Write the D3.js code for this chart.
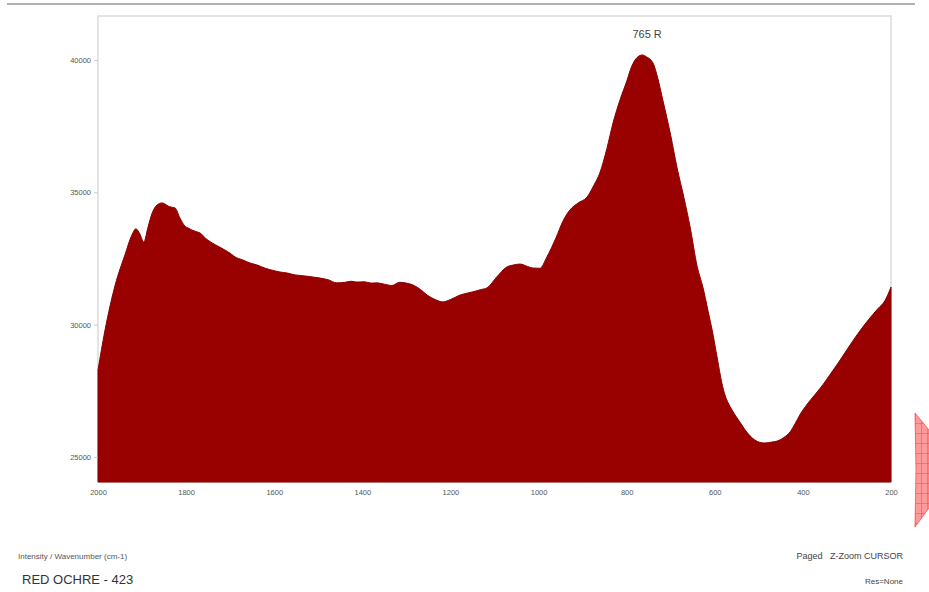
<!DOCTYPE html>
<html>
<head>
<meta charset="utf-8">
<script src="https://cdn.jsdelivr.net/npm/d3@7/dist/d3.min.js"></script>
<style>
  html, body { margin: 0; padding: 0; background: #fff; }
  svg { display: block; font-family: "Liberation Sans", Arial, sans-serif; }
</style>
</head>
<body>
<svg id="chart" width="929" height="592"></svg>
<script>
// Raman spectrum of red ochre sample 423: wavenumber (cm-1) and intensity
const wavenumber = [
  2000, 1984, 1961, 1939, 1923, 1914, 1905, 1896, 1887, 1877, 1866, 1855, 1848, 1841,
  1833, 1825, 1814, 1803, 1795, 1787, 1778, 1768, 1755, 1741, 1727, 1712, 1700, 1689,
  1672, 1655, 1640, 1628, 1610, 1598, 1587, 1570, 1553, 1541, 1520, 1496, 1478, 1458,
  1440, 1425, 1412, 1395, 1380, 1367, 1350, 1333, 1315, 1300, 1285, 1268, 1253, 1235,
  1217, 1200, 1178, 1160, 1149, 1130, 1117, 1095, 1072, 1058, 1042, 1025, 1013, 997,
  981, 960, 945, 929, 910, 890, 875, 861, 845, 831, 815, 799, 790, 781, 772, 765, 755,
  740, 730, 718, 700, 686, 670, 656, 640, 627, 615, 606, 594, 584, 577, 565, 554, 540,
  531, 520, 509, 497, 486, 472, 457, 443, 429, 418, 407, 390, 373, 355, 339, 320, 293,
  270, 248, 230, 214, 200
];
const intensity = [
  28290, 29800, 31500, 32630, 33390, 33620, 33430, 33120, 33650, 34220, 34520, 34600, 34560, 34480,
  34440, 34410, 34030, 33730, 33650, 33580, 33520, 33460, 33250, 33090, 32960, 32820, 32700, 32560,
  32450, 32330, 32260, 32180, 32080, 32030, 31990, 31950, 31880, 31860, 31820, 31760, 31700, 31580,
  31600, 31640, 31610, 31620, 31570, 31580, 31530, 31480, 31600, 31570, 31500, 31330, 31120, 30950,
  30860, 30950, 31120, 31200, 31240, 31330, 31390, 31800, 32180, 32250, 32290, 32200, 32140, 32130,
  32560, 33300, 33900, 34330, 34600, 34820, 35250, 35730, 36650, 37620, 38500, 39240, 39700, 40000, 40150, 40190, 40120,
  39880, 39350, 38490, 37150, 35960, 34800, 33690, 32200, 31420, 30500, 29800, 28700, 27800, 27350, 26900, 26590, 26250,
  26020, 25800, 25640, 25550, 25530, 25560, 25610, 25740, 25950, 26250, 26590, 27000, 27350, 27720, 28100, 28550, 29230,
  29780, 30250, 30600, 30900, 31420
];

const xTicks = [2000, 1800, 1600, 1400, 1200, 1000, 800, 600, 400, 200];
const yTicks = [25000, 30000, 35000, 40000];
const peakLabel = { wn: 765, value: 40190, text: "765 R" };

const svg = d3.select("#chart");
const plot = { left: 98, right: 891, top: 16, bottom: 482 };

const x = d3.scaleLinear().domain([2000, 200]).range([plot.left, plot.right]);
const y = d3.scaleLinear().domain([24056, 41662]).range([plot.bottom, plot.top]);

// header rule
svg.append("line")
  .attr("x1", 7).attr("x2", 915).attr("y1", 4).attr("y2", 4)
  .attr("stroke", "#b0b0b0").attr("stroke-width", 2);

// plot frame
svg.append("rect")
  .attr("x", plot.left).attr("y", plot.top)
  .attr("width", plot.right - plot.left).attr("height", plot.bottom - plot.top)
  .attr("fill", "#fff").attr("stroke", "#dcdcdc").attr("stroke-width", 1.5);

const data = wavenumber.map((w, i) => ({ w, v: intensity[i] }));

const area = d3.area()
  .x(d => x(d.w))
  .y0(plot.bottom)
  .y1(d => y(d.v))
  .curve(d3.curveMonotoneX);

svg.append("path")
  .datum(data)
  .attr("d", area)
  .attr("fill", "#990000")
  .attr("stroke", "#8a0000")
  .attr("stroke-width", 1);

// axes
const yAxis = d3.axisLeft(y).tickValues(yTicks).tickSize(4).tickPadding(3).tickFormat(d3.format("d"));
const gy = svg.append("g").attr("transform", `translate(${plot.left},0)`).call(yAxis);
gy.select(".domain").remove();
gy.selectAll(".tick line").attr("stroke", "#c8c8c8");
gy.selectAll(".tick text").attr("fill", "#555").style("font-size", "7.5px");

const xAxis = d3.axisBottom(x).tickValues(xTicks).tickSize(0).tickPadding(8).tickFormat(d3.format("d"));
const gx = svg.append("g").attr("transform", `translate(0,${plot.bottom})`).call(xAxis);
gx.select(".domain").remove();
gx.selectAll(".tick text").attr("fill", "#555").style("font-size", "7.5px");

// peak annotation
svg.append("text")
  .attr("x", x(peakLabel.wn) + 5).attr("y", y(peakLabel.value) - 17)
  .attr("text-anchor", "middle")
  .attr("fill", "#444").style("font-size", "11px")
  .text(peakLabel.text);

// footer texts
svg.append("text").attr("x", 18).attr("y", 559)
  .attr("fill", "#555").style("font-size", "8px")
  .text("Intensity / Wavenumber (cm-1)");
svg.append("text").attr("x", 22).attr("y", 584)
  .attr("fill", "#333").style("font-size", "13px")
  .text("RED OCHRE - 423");
svg.append("text").attr("x", 903).attr("y", 559).attr("text-anchor", "end")
  .attr("fill", "#444").style("font-size", "9px")
  .text("Paged\u00a0\u00a0 Z-Zoom CURSOR");
svg.append("text").attr("x", 903).attr("y", 584).attr("text-anchor", "end")
  .attr("fill", "#444").style("font-size", "8px")
  .text("Res=None");

// side grid marker at the right edge
const defs = svg.append("defs");
const pat = defs.append("pattern").attr("id", "redgrid")
  .attr("patternUnits", "userSpaceOnUse").attr("width", 6).attr("height", 10)
  .attr("x", 915).attr("y", 413);
pat.append("rect").attr("width", 6).attr("height", 10).attr("fill", "#ff9a9a");
pat.append("path").attr("d", "M0,0H6M0,0V10").attr("stroke", "#ff3030").attr("stroke-width", 0.8);
svg.append("path")
  .attr("d", "M915,413 L929,430 L929,508 L915,527 L916,470 Z")
  .attr("fill", "url(#redgrid)").attr("stroke", "#ff5050").attr("stroke-width", 0.8);
</script>
</body>
</html>
